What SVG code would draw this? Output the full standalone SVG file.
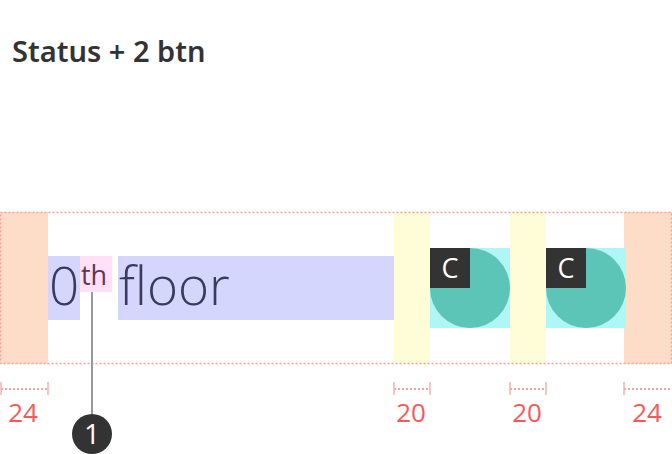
<svg xmlns="http://www.w3.org/2000/svg" width="672" height="454" viewBox="0 0 672 454">
<style>
.title{font-family:"Noto Sans","Open Sans",sans-serif;font-weight:600;font-size:29px;fill:#333}
.big{font-family:"Open Sans","Noto Sans",sans-serif;font-weight:300;font-size:53px;fill:#3a3a5e}
.sup{font-family:"Open Sans","Noto Sans",sans-serif;font-weight:400;font-size:27px;fill:#5a3a58}
.dim{font-family:"Open Sans","Noto Sans",sans-serif;font-size:26px;fill:#f55a5a;text-anchor:middle}
.dline{stroke:#f9a0a0;stroke-width:2;stroke-dasharray:2 2;fill:none}
.tick{stroke:#f9b0b0;stroke-width:1.5;fill:none}
.margin{fill:#fdddc8}
.gap{fill:#fffcd8}
.btnbg{fill:#aff7f6}
.btn{fill:#5cc5b8}
.icon{fill:#333}
.iconTxt{font-family:"Open Sans","Noto Sans",sans-serif;font-size:27px;fill:#fff;text-anchor:middle}
</style>
<rect width="672" height="454" fill="#fff"/>
<text class="title" x="12" y="62">Status + 2 btn</text>

<g id="margin-left"><rect class="margin" x="0" y="212" width="48" height="152"/></g>
<g id="margin-right"><rect class="margin" x="624" y="212" width="48" height="152"/></g>
<g id="gap-1"><rect class="gap" x="394" y="212" width="36" height="152"/></g>
<g id="gap-2"><rect class="gap" x="510" y="212" width="36" height="152"/></g>

<g id="num">
<rect x="48" y="256" width="32" height="64" fill="#d4d6fe"/>
<text class="big" x="49" y="305">0</text>
</g>
<g id="ordinal">
<rect x="80" y="256" width="32" height="36" fill="#ffe0f6"/>
<text class="sup" x="81" y="285">th</text>
</g>
<g id="floor">
<rect x="118" y="256" width="276" height="64" fill="#d4d6fe"/>
<text class="big" x="119" y="305">floor</text>
</g>

<g id="btn-1">
<rect class="btnbg" x="430" y="248" width="80" height="80"/>
<circle class="btn" cx="470" cy="288" r="40"/>
<rect class="icon" x="430" y="248" width="40" height="40"/>
<text class="iconTxt" x="450" y="278">C</text>
</g>
<g id="btn-2">
<rect class="btnbg" x="546" y="248" width="80" height="80"/>
<circle class="btn" cx="586" cy="288" r="40"/>
<rect class="icon" x="546" y="248" width="40" height="40"/>
<text class="iconTxt" x="566" y="278">C</text>
</g>

<rect x="0.5" y="212.5" width="671" height="151" fill="none" stroke="#f9a0a0" stroke-width="1.5" stroke-dasharray="2 2"/>

<g id="connectors">
<line x1="92" y1="292" x2="92" y2="414" stroke="#999" stroke-width="2"/>
</g>
<g id="callout-1">
<circle cx="92" cy="434" r="20" fill="#333"/>
<text x="92" y="444" font-family="Open Sans, Noto Sans, sans-serif" font-weight="400" font-size="28" fill="#fff" text-anchor="middle">1</text>
</g>

<g id="dims">
<line class="dline" x1="1" y1="389" x2="48" y2="389"/>
<line class="tick" x1="1" y1="382" x2="1" y2="395"/>
<line class="tick" x1="48" y1="382" x2="48" y2="395"/>
<text class="dim" x="23" y="422">24</text>

<line class="dline" x1="394" y1="389" x2="430" y2="389"/>
<line class="tick" x1="394" y1="382" x2="394" y2="395"/>
<line class="tick" x1="430" y1="382" x2="430" y2="395"/>
<text class="dim" x="411" y="422">20</text>

<line class="dline" x1="510" y1="389" x2="546" y2="389"/>
<line class="tick" x1="510" y1="382" x2="510" y2="395"/>
<line class="tick" x1="546" y1="382" x2="546" y2="395"/>
<text class="dim" x="527" y="422">20</text>

<line class="dline" x1="624" y1="389" x2="672" y2="389"/>
<line class="tick" x1="624" y1="382" x2="624" y2="395"/>
<text class="dim" x="647" y="422">24</text>
</g>
</svg>
